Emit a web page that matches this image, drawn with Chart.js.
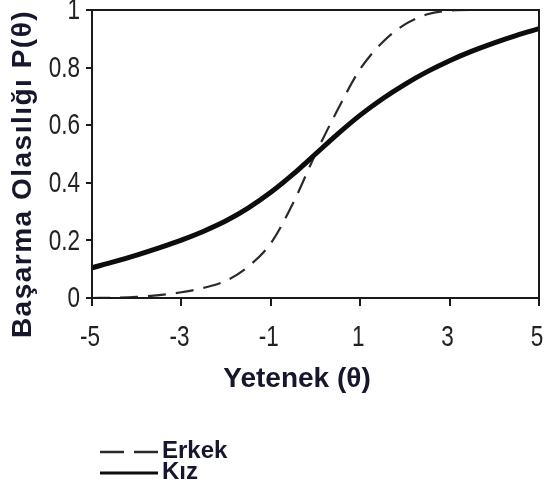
<!DOCTYPE html>
<html>
<head>
<meta charset="utf-8">
<script src="https://cdn.jsdelivr.net/npm/chart.js@4"></script>
<style>
  html, body { margin: 0; padding: 0; background: #fff; }
  #wrap { width: 545px; height: 492px; position: relative; }
</style>
</head>
<body>
<div id="wrap"><canvas id="chart"></canvas></div>
<script>
// ability values (theta) and probability of success for each group
const theta = [-5, -4.5, -4, -3.5, -3, -2.5, -2, -1.5, -1, -0.5, 0, 0.5, 1, 1.5, 2, 2.5, 3, 3.5, 4, 4.5, 5];
const erkek = [0, 0.001, 0.004, 0.01, 0.02, 0.035, 0.06, 0.11, 0.19, 0.33, 0.5, 0.655, 0.795, 0.888, 0.95, 0.985, 0.998, 1, 1, 1, 1];
const kiz = [0.105, 0.126, 0.149, 0.174, 0.201, 0.232, 0.268, 0.313, 0.367, 0.43, 0.5, 0.57, 0.635, 0.692, 0.742, 0.786, 0.824, 0.857, 0.886, 0.912, 0.935];

const xTicks = [-5, -3, -1, 1, 3, 5];
const yTicks = [0, 0.2, 0.4, 0.6, 0.8, 1];

const seriesNames = ["Erkek", "Kız"];
const xTitle = "Yetenek (θ)";
const yTitle = "Başarma Olasılığı P(θ)";

const inkColor = "#1a1a1a";
const textColor = "#16162c";

const toPoints = (ys) => theta.map((t, i) => ({ x: t, y: ys[i] }));

// narrow tick label, like the condensed face of the original figure
function narrowText(ctx, text, x, y, align) {
  ctx.save();
  ctx.translate(x, y);
  ctx.scale(0.75, 1);
  ctx.textAlign = align;
  ctx.fillText(text, 0, 0);
  ctx.restore();
}

const decor = {
  id: "decor",
  afterDraw(chart) {
    const { ctx, chartArea: a } = chart;
    const xs = chart.scales.x;
    const ys = chart.scales.y;
    ctx.save();

    // full frame around the plot
    ctx.strokeStyle = inkColor;
    ctx.lineWidth = 2;
    ctx.strokeRect(a.left, a.top, a.right - a.left, a.bottom - a.top);

    // tick labels
    ctx.fillStyle = "#222";
    ctx.font = '30px "Liberation Sans", Arial, sans-serif';
    ctx.textBaseline = "middle";
    ys.ticks.forEach((t) => {
      narrowText(ctx, String(t.value), 80, ys.getPixelForValue(t.value) + 1, "right");
    });
    xs.ticks.forEach((t) => {
      narrowText(ctx, String(t.value), xs.getPixelForValue(t.value) - 2, 338, "center");
    });

    // axis titles
    ctx.fillStyle = textColor;
    ctx.font = 'bold 28px "Liberation Sans", Arial, sans-serif';
    ctx.textAlign = "center";
    ctx.fillText(xTitle, 297, 379);

    ctx.save();
    ctx.translate(23, 174);
    ctx.rotate(-Math.PI / 2);
    ctx.letterSpacing = "1.5px";
    ctx.fillText(yTitle, 0, 0);
    ctx.restore();

    // legend, stacked
    ctx.font = 'bold 24px "Liberation Sans", Arial, sans-serif';
    ctx.textAlign = "left";
    const rows = [452, 473];
    chart.data.datasets.forEach((ds) => {
      const i = seriesNames.indexOf(ds.label);
      const y = rows[i];
      ctx.beginPath();
      ctx.strokeStyle = ds.borderColor;
      ctx.lineWidth = i === 0 ? 2.5 : 3;
      ctx.setLineDash(i === 0 ? [24, 10] : []);
      ctx.moveTo(100, y);
      ctx.lineTo(158, y);
      ctx.stroke();
      ctx.setLineDash([]);
      ctx.fillText(ds.label, 162, y - 1);
    });

    ctx.restore();
  }
};

new Chart(document.getElementById("chart"), {
  type: "line",
  data: {
    datasets: [
      {
        label: seriesNames[0],
        data: toPoints(erkek),
        borderColor: "#2a2a2a",
        borderWidth: 2.2,
        borderDash: [18, 10],
        pointRadius: 0,
        cubicInterpolationMode: "monotone",
        order: 1
      },
      {
        label: seriesNames[1],
        data: toPoints(kiz),
        borderColor: "#0d0d0d",
        borderWidth: 5,
        pointRadius: 0,
        cubicInterpolationMode: "monotone",
        order: 0
      }
    ]
  },
  options: {
    responsive: true,
    maintainAspectRatio: false,
    animation: false,
    devicePixelRatio: 1,
    layout: { padding: { left: 0, right: 6, top: 10, bottom: 0 } },
    plugins: {
      legend: { display: false },
      tooltip: { enabled: false }
    },
    scales: {
      x: {
        type: "linear",
        min: -5,
        max: 5,
        afterBuildTicks: (s) => { s.ticks = xTicks.map((v) => ({ value: v })); },
        afterFit: (s) => { s.height = 194; s.paddingLeft = 0; s.paddingRight = 0; },
        ticks: { display: false },
        grid: { drawOnChartArea: false, color: inkColor, lineWidth: 2, tickLength: 8 },
        border: { display: true, color: inkColor, width: 2 }
      },
      y: {
        min: 0,
        max: 1,
        afterBuildTicks: (s) => { s.ticks = yTicks.map((v) => ({ value: v })); },
        afterFit: (s) => { s.width = 92; s.paddingTop = 0; s.paddingBottom = 0; },
        ticks: { display: false },
        grid: { drawOnChartArea: false, color: inkColor, lineWidth: 2, tickLength: 6 },
        border: { display: true, color: inkColor, width: 2 }
      }
    }
  },
  plugins: [decor]
});
</script>
</body>
</html>
